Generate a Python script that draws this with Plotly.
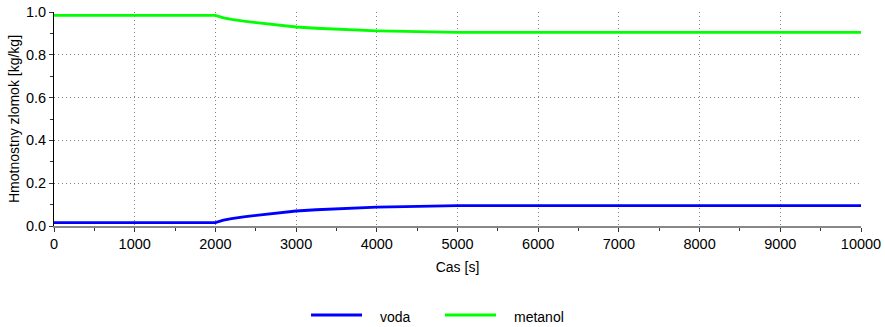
import plotly.graph_objects as go

time_s = [0, 2000, 2100, 2200, 2350, 2500, 2750, 3000, 3250, 3500, 3750, 4000, 4350, 4700, 5000, 6000, 7000, 8000, 9000, 10000]
voda = [0.016, 0.016, 0.027, 0.035, 0.043, 0.050, 0.061, 0.070, 0.076, 0.081, 0.085, 0.088, 0.091, 0.094, 0.095, 0.095, 0.095, 0.095, 0.095, 0.095]
metanol = [0.984, 0.984, 0.973, 0.965, 0.957, 0.950, 0.939, 0.930, 0.924, 0.919, 0.915, 0.912, 0.909, 0.906, 0.905, 0.905, 0.905, 0.905, 0.905, 0.905]

series_names = ["voda", "metanol"]
series_colors = ["#0000ff", "#00ff00"]

x_ticks = [0, 1000, 2000, 3000, 4000, 5000, 6000, 7000, 8000, 9000, 10000]
y_ticks = [0.0, 0.2, 0.4, 0.6, 0.8, 1.0]

font = "Liberation Sans, Arial, sans-serif"

fig = go.Figure()
for name, vals, col in zip(series_names, [voda, metanol], series_colors):
    fig.add_trace(go.Scatter(x=time_s, y=vals, mode="lines", name=name,
                             line=dict(color=col, width=2.8), showlegend=False))

# legend drawn below the plot (line sample + label), positioned in paper coords
legend_x0 = [0.3185, 0.4845]
line_len = 0.0632
text_gap = 0.0195
legend_y = -0.416
for name, col, x0 in zip(series_names, series_colors, legend_x0):
    fig.add_shape(type="line", xref="paper", yref="paper",
                  x0=x0, x1=x0 + line_len, y0=legend_y, y1=legend_y,
                  line=dict(color=col, width=2.8))
    fig.add_annotation(xref="paper", yref="paper", x=x0 + line_len + text_gap, y=legend_y - 0.007,
                       text=name, showarrow=False, xanchor="left", yanchor="middle",
                       font=dict(family=font, size=14, color="#000000"))

fig.update_layout(
    width=885, height=327,
    margin=dict(l=54, r=24, t=12, b=101),
    paper_bgcolor="white", plot_bgcolor="white",
    font=dict(family=font, size=14.5, color="#000000"),
    showlegend=False,
)
grid_style = dict(showgrid=True, gridcolor="#808080", griddash="1px,3px", gridwidth=1)
fig.update_xaxes(
    range=[0, 10000], tickvals=x_ticks, ticktext=[str(v) for v in x_ticks],
    showline=True, linecolor="#888888", linewidth=2,
    ticks="outside", ticklen=4, tickcolor="#333333",
    minor=dict(dtick=500, ticks="outside", ticklen=3, tickcolor="#333333", showgrid=False),
    zeroline=False, automargin=False,
    title=dict(text="Cas [s]", font=dict(size=14), standoff=11),
    **grid_style,
)
fig.update_yaxes(
    range=[0, 1.0], tickvals=y_ticks, ticktext=["%.1f" % v for v in y_ticks],
    showline=True, linecolor="#000000", linewidth=1,
    ticks="outside", ticklen=4, tickcolor="#333333",
    minor=dict(dtick=0.1, ticks="outside", ticklen=3, tickcolor="#333333", showgrid=False),
    zeroline=False, automargin=False,
    title=dict(text="Hmotnostny zlomok [kg/kg]", font=dict(size=14), standoff=3),
    **grid_style,
)

fig.write_html("out.html", config={"displayModeBar": False},
               post_script="document.body.style.margin='0';document.body.style.overflow='hidden';")
